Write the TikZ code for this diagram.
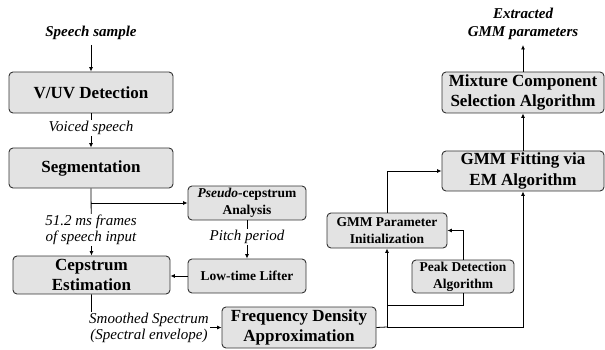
\documentclass[tikz,border=0pt]{standalone}
\usepackage{fontspec}
\setmainfont{Liberation Serif}
\usetikzlibrary{arrows.meta}
\begin{document}
\begin{tikzpicture}[x=1pt,y=-1pt,
  box/.style={draw=black!80, fill=black!11, rounded corners=4pt, line width=0.9pt, align=center, inner sep=0pt},
  bigbox/.style={box, font=\fontsize{17}{20.5}\selectfont\bfseries},
  smallbox/.style={box, font=\fontsize{13.5}{17}\selectfont\bfseries},
  lbl/.style={font=\fontsize{15}{16}\selectfont\itshape, align=center, fill=white, inner sep=1pt},
  io/.style={font=\fontsize{15}{18}\selectfont\bfseries\itshape, align=center, inner sep=0pt},
  conn/.style={line width=0.8pt, -{Latex[length=4.5pt,width=4pt]}},
  wire/.style={line width=0.8pt}
]
\useasboundingbox (0,0) rectangle (605,350);

% processing blocks
\node[bigbox, minimum width=164, minimum height=41] (vuv) at (91,92.5) {V/UV Detection};
\node[bigbox, minimum width=164, minimum height=40] (seg) at (91,168) {Segmentation};
\node[bigbox, minimum width=157, minimum height=38] (cep) at (91.5,275) {Cepstrum\\Estimation};
\node[smallbox, minimum width=118, minimum height=34] (pseudo) at (247,203) {\textbf{\textit{Pseudo}}-cepstrum\\Analysis};
\node[smallbox, minimum width=118, minimum height=34] (lifter) at (247,276) {Low-time Lifter};
\node[bigbox, minimum width=154, minimum height=41] (freq) at (299,327.5) {Frequency Density\\Approximation};
\node[smallbox, minimum width=120, minimum height=35] (init) at (387,230.5) {GMM Parameter\\Initialization};
\node[smallbox, minimum width=102, minimum height=33] (peak) at (463,276.5) {Peak Detection\\Algorithm};
\node[bigbox, minimum width=162, minimum height=40] (fit) at (523,171) {GMM Fitting via\\EM Algorithm};
\node[bigbox, minimum width=162, minimum height=41] (mix) at (523,92.5) {Mixture Component\\Selection Algorithm};

% input and output
\node[io] (inp) at (91,33) {Speech sample};
\node[io] (outp) at (523,24) {Extracted\\GMM parameters};
\coordinate (inpEnd) at (91,45);
\coordinate (outEnd) at (523,45);

% junction points
\coordinate (segJ) at (91,203);
\coordinate (cepJ) at (91.5,327);
\coordinate (freqJ) at (387,327);
\coordinate (peakJ) at (387,305);
\coordinate (fitJ) at (523,327);

% connectors
\draw[conn] (inpEnd) -- (vuv.north);
\draw[conn] (vuv.south) -- (seg.north);
\draw[conn] (seg.south) -- (cep.north);
\draw[conn] (segJ) -- (pseudo.west);
\draw[conn] (pseudo.south) -- (lifter.north);
\draw[conn] (lifter.west) -- (lifter.west -| cep.east);
\draw[conn] (cep.south) -- (cepJ) -- (freq.west);
\draw[wire] (freq.east) -- (freqJ);
\draw[conn] (freqJ) -- (init.south);
\draw[conn] (freqJ) -- (fitJ) -- (fit.south);
\draw[wire] (peak.south) |- (peakJ);
\draw[conn] (peak.north) |- (init.east);
\draw[conn] (init.north) |- (fit.west);
\draw[conn] (fit.north) -- (mix.south);
\draw[conn] (mix.north) -- (outEnd);

% connector labels
\node[lbl] (lv) at (91,128) {Voiced speech};
\node[lbl] (lf) at (91,230) {51.2 ms frames\\of speech input};
\node[lbl] (lp) at (247,237) {Pitch period};
\node[lbl] (ls) at (149,328) {Smoothed Spectrum\\(Spectral envelope)};
\end{tikzpicture}
\end{document}
